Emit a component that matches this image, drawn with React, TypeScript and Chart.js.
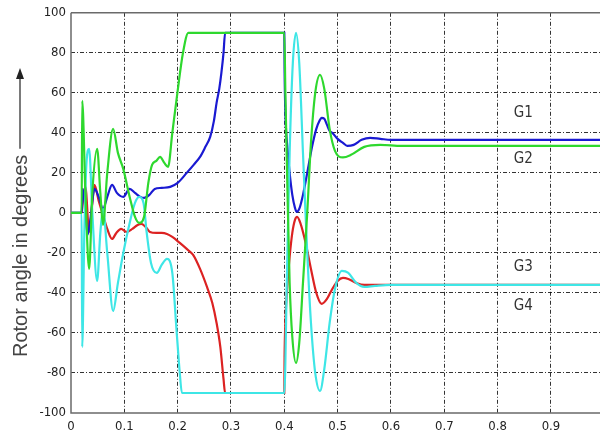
import { useEffect, useRef } from "react";
import { Chart, registerables } from "chart.js";

Chart.register(...registerables);

const xTickValues = [0, 0.1, 0.2, 0.3, 0.4, 0.5, 0.6, 0.7, 0.8, 0.9];
const yTickValues = [-100, -80, -60, -40, -20, 0, 20, 40, 60, 80, 100];

// G1 (blue)
const g1X = [0, 0.02, 0.022, 0.026, 0.031, 0.036, 0.044, 0.052, 0.06, 0.068, 0.077, 0.086, 0.098, 0.11, 0.12, 0.13, 0.137, 0.147, 0.157, 0.17, 0.186, 0.2, 0.217, 0.23, 0.242, 0.252, 0.261, 0.268, 0.273, 0.278, 0.282, 0.286, 0.289, 0.4, 0.4005, 0.402, 0.406, 0.41, 0.415, 0.42, 0.423, 0.428, 0.435, 0.443, 0.452, 0.46, 0.466, 0.47, 0.475, 0.48, 0.485, 0.49, 0.5, 0.51, 0.518, 0.53, 0.545, 0.561, 0.58, 0.6, 0.7, 0.992];
const g1Y = [0, 0, 12, 5, -11, -4, 12, 8, 2, 8, 14, 10, 8, 12, 10, 8, 7.5, 9, 12, 12.5, 13, 15, 20, 24, 28, 33, 38, 46, 55, 62, 70, 80, 90, 90, 72, 50, 32, 20, 9, 2.5, 0.5, 2, 9, 20, 33, 42, 46, 47.5, 47, 44, 41, 40, 37, 35, 33.5, 34, 36.5, 37.5, 37, 36.5, 36.5, 36.5];

// G2 (green)
const g2X = [0, 0.02, 0.021, 0.027, 0.034, 0.04, 0.049, 0.055, 0.06, 0.068, 0.079, 0.088, 0.098, 0.11, 0.12, 0.128, 0.137, 0.145, 0.152, 0.16, 0.167, 0.175, 0.182, 0.19, 0.2, 0.21, 0.22, 0.4, 0.402, 0.406, 0.41, 0.415, 0.422, 0.428, 0.435, 0.443, 0.45, 0.458, 0.467, 0.475, 0.485, 0.495, 0.51, 0.525, 0.55, 0.58, 0.62, 0.992];
const g2Y = [0, 0, 56, 10, -28, 10, 32, 10, -6, 20, 42, 30, 22, 8, -2, -5, -2, 15, 24, 26, 28, 25, 23, 40, 61, 80, 90, 90, 60, 10, -35, -62, -75, -65, -35, 0, 35, 60, 69, 62, 42, 31, 27.7, 29, 33, 34, 33.5, 33.5];

// G3 (red)
const g3X = [0, 0.02, 0.023, 0.027, 0.034, 0.04, 0.044, 0.052, 0.06, 0.068, 0.077, 0.085, 0.094, 0.104, 0.115, 0.125, 0.132, 0.14, 0.148, 0.16, 0.17, 0.18, 0.19, 0.204, 0.217, 0.229, 0.242, 0.255, 0.265, 0.273, 0.28, 0.286, 0.289, 0.4, 0.4005, 0.402, 0.406, 0.41, 0.415, 0.42, 0.424, 0.43, 0.44, 0.45, 0.46, 0.47, 0.48, 0.49, 0.5, 0.51, 0.52, 0.535, 0.55, 0.6, 0.992];
const g3Y = [0, 0, 8, 13, -9.5, 5, 14, 6, -1, -8, -13, -10, -8, -9.5, -8, -6, -5.5, -7, -9.5, -10, -10, -10.5, -12, -15, -18, -21, -28, -37, -45, -55, -67, -83, -90, -90, -72, -55, -35, -22, -10, -3.5, -2, -5, -15, -28, -40, -45.5, -43, -38, -34, -32.5, -33, -35, -36, -36, -36];

// G4 (cyan)
const g4X = [0, 0.02, 0.021, 0.025, 0.029, 0.034, 0.04, 0.049, 0.055, 0.06, 0.068, 0.079, 0.088, 0.098, 0.11, 0.12, 0.128, 0.136, 0.142, 0.15, 0.161, 0.17, 0.18, 0.19, 0.198, 0.204, 0.208, 0.4, 0.405, 0.41, 0.416, 0.422, 0.428, 0.435, 0.443, 0.45, 0.458, 0.467, 0.475, 0.485, 0.495, 0.508, 0.52, 0.535, 0.55, 0.57, 0.6, 0.992];
const g4Y = [0, 0, -67, -10, 25, 32, 0, -34, -10, 2, -20, -49, -35, -20, -5, 5, 8, 5, -10, -25, -30, -26, -23, -30, -59, -80, -90, -90, -30, 30, 75, 90, 75, 30, -20, -55, -80, -89, -78, -55, -38, -29, -30, -35, -37, -36.5, -36, -36];

const seriesNames = ["G1", "G2", "G3", "G4"];
const seriesColors = ["#1a1ad2", "#2ed82e", "#dc2222", "#3ee6e6"];
const seriesOrder = [2, 0, 3, 1];
const labelX = [0.848, 0.848, 0.848, 0.848];
const labelY = [50, 27, -27, -46.5];
const yTitle = "Rotor angle in degrees";

const tickFont = '"Liberation Sans Narrow", "DejaVu Sans Condensed", "Liberation Sans", sans-serif';

export default function App() {
  const ref = useRef<HTMLCanvasElement>(null);

  useEffect(() => {
    const canvas = ref.current;
    if (!canvas) return;
    const toPts = (xs: number[], ys: number[]) => xs.map((x, i) => ({ x, y: ys[i] }));
    const all = [[g1X, g1Y], [g2X, g2Y], [g3X, g3Y], [g4X, g4Y]];

    const decor = {
      id: "decor",
      beforeDatasetsDraw(chart: any) {
        const { ctx, chartArea } = chart;
        ctx.save();
        ctx.strokeStyle = "#6a6a6a";
        ctx.lineWidth = 1.5;
        ctx.beginPath();
        ctx.moveTo(chartArea.left, chartArea.top);
        ctx.lineTo(chartArea.right, chartArea.top);
        ctx.moveTo(chartArea.left, chartArea.top);
        ctx.lineTo(chartArea.left, chartArea.bottom);
        ctx.lineTo(chartArea.right, chartArea.bottom);
        ctx.stroke();
        ctx.restore();
      },
      afterDraw(chart: any) {
        const { ctx } = chart;
        const xs = chart.scales.x;
        const ys = chart.scales.y;
        ctx.save();
        ctx.fillStyle = "#333";
        ctx.font = '15px ' + tickFont;
        ctx.textAlign = "center";
        ctx.textBaseline = "middle";
        seriesNames.forEach((n, i) => {
          ctx.fillText(n, xs.getPixelForValue(labelX[i]), ys.getPixelForValue(labelY[i]));
        });
        // y title
        ctx.font = '20px "Liberation Sans", Arial, sans-serif';
        ctx.translate(21, 357);
        ctx.rotate(-Math.PI / 2);
        ctx.textAlign = "left";
        ctx.textBaseline = "middle";
        ctx.fillStyle = "#444";
        ctx.fillText(yTitle, 0, 0);
        const w = ctx.measureText(yTitle).width;
        const start = w + 6;
        const end = 357 - 68;
        ctx.strokeStyle = "#222";
        ctx.lineWidth = 1.2;
        ctx.beginPath();
        ctx.moveTo(start, -1);
        ctx.lineTo(end - 8, -1);
        ctx.stroke();
        ctx.beginPath();
        ctx.moveTo(end, -1);
        ctx.lineTo(end - 11, -5);
        ctx.lineTo(end - 11, 3);
        ctx.closePath();
        ctx.fillStyle = "#222";
        ctx.fill();
        ctx.restore();
      },
    };

    const gridColor = "rgba(0,0,0,0.8)";

    const chart = new Chart(canvas, {
      type: "line",
      data: {
        datasets: all.map(([xs, ys], i) => ({
          label: seriesNames[i],
          data: toPts(xs, ys),
          borderColor: seriesColors[i],
          backgroundColor: seriesColors[i],
          borderWidth: 2.2,
          pointRadius: 0,
          cubicInterpolationMode: "monotone",
          fill: false,
          order: seriesOrder[i],
        })),
      },
      options: {
        animation: false,
        responsive: false,
        maintainAspectRatio: false,
        layout: { padding: { top: 8, left: 0, right: 0, bottom: 0 } },
        plugins: { legend: { display: false }, tooltip: { enabled: false } },
        scales: {
          x: {
            type: "linear",
            min: 0,
            max: 0.992,
            afterBuildTicks: (s: any) => {
              s.ticks = xTickValues.map((v) => ({ value: v }));
            },
            afterFit: (s: any) => {
              s.height = 29;
            },
            grid: {
              color: (c: any) => (c.tick && c.tick.value === 0 ? "rgba(0,0,0,0)" : gridColor),
              lineWidth: 1,
              drawTicks: false,
            },
            border: { display: false, dash: [4, 2, 1, 2] },
            ticks: {
              padding: 6,
              color: "#222",
              font: { family: tickFont, size: 13 },
              maxRotation: 0,
              callback: (v: any) => String(v),
            },
          },
          y: {
            type: "linear",
            min: -100,
            max: 100,
            afterBuildTicks: (s: any) => {
              s.ticks = yTickValues.map((v) => ({ value: v }));
            },
            afterFit: (s: any) => {
              s.width = 71;
            },
            grid: {
              color: (c: any) =>
                c.tick && (c.tick.value === 100 || c.tick.value === -100) ? "rgba(0,0,0,0)" : gridColor,
              lineWidth: 1,
              drawTicks: false,
            },
            border: { display: false, dash: [4, 2, 1, 2] },
            ticks: {
              padding: 5,
              color: "#222",
              font: { family: tickFont, size: 13 },
              callback: (v: any) => String(v),
            },
          },
        },
      },
      plugins: [decor],
    } as any);

    return () => chart.destroy();
  }, []);

  return (
    <div style={{ position: "absolute", left: 0, top: 0, width: 600, height: 442, background: "#fff" }}>
      <canvas ref={ref} width={600} height={442} style={{ display: "block" }} />
    </div>
  );
}
